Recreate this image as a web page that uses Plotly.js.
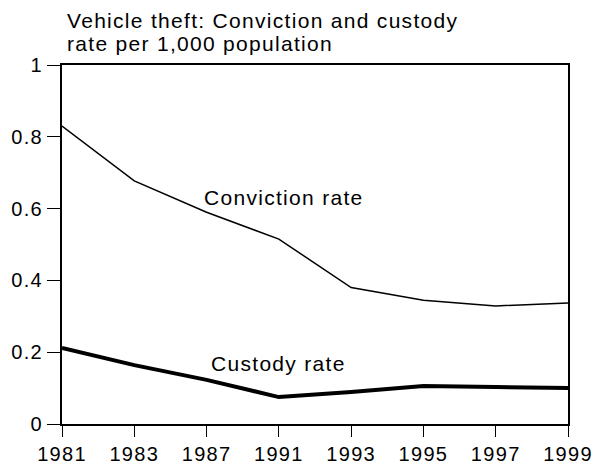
<!DOCTYPE html>
<html><head><meta charset="utf-8">
<script src="https://cdn.plot.ly/plotly-3.0.1.min.js"></script>
<style>
body{margin:0;padding:0;background:#fff}
#chart{width:597px;height:466px}
text{letter-spacing:1.3px}
</style>
</head><body><div id="chart"></div>
<script>
var years = ['1981','1983','1987','1991','1993','1995','1997','1999'];
var convictionRate = [0.83, 0.677, 0.59, 0.515, 0.38, 0.345, 0.329, 0.337];
var custodyRate = [0.212, 0.164, 0.123, 0.075, 0.089, 0.106, 0.103, 0.100];
var yTicks = [0, 0.2, 0.4, 0.6, 0.8, 1];
var yTickLabels = ['0', '0.2', '0.4', '0.6', '0.8', '1'];
var titleLines = ['Vehicle theft: Conviction and custody', 'rate per 1,000 population'];
var seriesLabels = ['Conviction rate', 'Custody rate'];

var fam = 'Liberation Sans, Arial, sans-serif';
var textFont = {family: fam, size: 21, color: '#000'};
var tickFont = {family: fam, size: 20, color: '#000'};
var traces = [
  {x: years, y: convictionRate, name: seriesLabels[0], type: 'scatter', mode: 'lines', line: {color: '#000', width: 1.5}, hoverinfo: 'none'},
  {x: years, y: custodyRate, name: seriesLabels[1], type: 'scatter', mode: 'lines', line: {color: '#000', width: 4}, hoverinfo: 'none'}
];
var layout = {
  width: 597, height: 466,
  margin: {l: 62, r: 29, t: 65, b: 42},
  paper_bgcolor: '#fff', plot_bgcolor: '#fff',
  showlegend: false,
  font: textFont,
  xaxis: {type: 'category', range: [0, 7], showgrid: false, zeroline: false,
    showline: true, linecolor: '#000', linewidth: 2, mirror: true,
    ticks: 'outside', ticklen: 11, tickcolor: '#000', tickwidth: 1, tickfont: tickFont},
  yaxis: {range: [0, 1], showgrid: false, zeroline: false,
    showline: true, linecolor: '#000', linewidth: 2, mirror: true,
    tickmode: 'array', tickvals: yTicks, ticktext: yTickLabels,
    ticks: 'outside', ticklen: 13, tickcolor: '#000', tickwidth: 1, tickfont: tickFont},
  annotations: [
    {x: 0.006, y: 1.1226, xref: 'paper', yref: 'paper', xanchor: 'left', yanchor: 'middle', text: titleLines[0], showarrow: false, font: textFont},
    {x: 0.006, y: 1.0585, xref: 'paper', yref: 'paper', xanchor: 'left', yanchor: 'middle', text: titleLines[1], showarrow: false, font: textFont},
    {x: 3.07, y: 0.632, xref: 'x', yref: 'y', text: seriesLabels[0], showarrow: false, font: textFont},
    {x: 3.0, y: 0.168, xref: 'x', yref: 'y', text: seriesLabels[1], showarrow: false, font: textFont}
  ]
};
Plotly.newPlot('chart', traces, layout, {displayModeBar: false, staticPlot: true});
</script></body></html>
